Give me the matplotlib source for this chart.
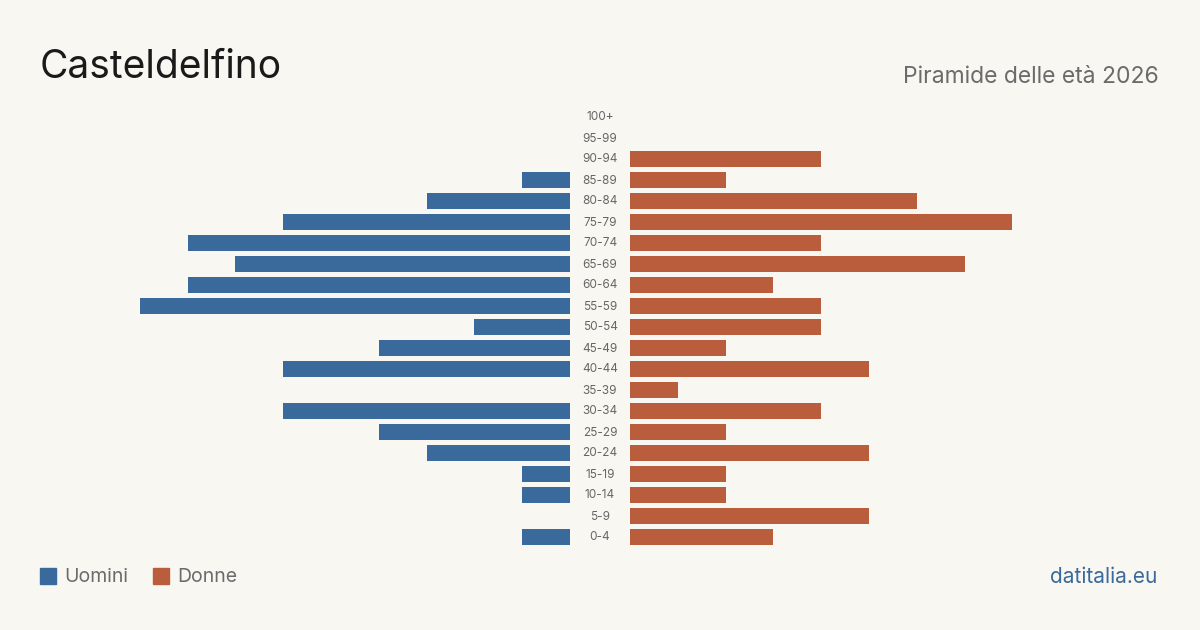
import matplotlib
matplotlib.use("Agg")
import matplotlib.pyplot as plt
from matplotlib.patches import Rectangle

plt.rcParams['font.family'] = ['Inter', 'DejaVu Sans']

age_groups = ["100+", "95-99", "90-94", "85-89", "80-84", "75-79", "70-74", "65-69",
              "60-64", "55-59", "50-54", "45-49", "40-44", "35-39", "30-34", "25-29",
              "20-24", "15-19", "10-14", "5-9", "0-4"]
men = [0, 0, 0, 1, 3, 6, 8, 7, 8, 9, 2, 4, 6, 0, 6, 4, 3, 1, 1, 0, 1]
women = [0, 0, 4, 2, 6, 8, 4, 7, 3, 4, 4, 2, 5, 1, 4, 2, 5, 2, 2, 5, 3]

title = "Casteldelfino"
subtitle = "Piramide delle età 2026"
legend_labels = ["Uomini", "Donne"]
source = "datitalia.eu"

BG = "#f9f7f2"
BLUE = "#3a6a9b"
ORANGE = "#b95d3c"

W, H = 1200, 630
fig = plt.figure(figsize=(12, 6.3), dpi=100, facecolor=BG)

n = len(age_groups)
row = 21.0
top_px = 117 - row / 2
bot_px = 537 + row / 2
ax_bottom = 1 - bot_px / H
ax_height = (bot_px - top_px) / H

unit = 47.8
left_w_px = 570 - 40
right_w_px = 1160 - 630

axL = fig.add_axes([40 / W, ax_bottom, left_w_px / W, ax_height])
axR = fig.add_axes([630 / W, ax_bottom, right_w_px / W, ax_height])

ypos = list(range(n))
for ax, vals, col, wpx in [(axL, men, BLUE, left_w_px), (axR, women, ORANGE, right_w_px)]:
    ax.set_facecolor(BG)
    ax.barh(ypos, vals, height=0.8, color=col)
    ax.set_xlim(0, wpx / unit)
    ax.set_ylim(n - 0.5, -0.5)
    ax.axis('off')
axL.invert_xaxis()

for i, lab in enumerate(age_groups):
    y = 1 - (117.5 + i * row) / H
    fig.text(600 / W, y, lab, ha='center', va='center', fontsize=8.5, color='#666666')

fig.text(40 / W, 1 - 68 / H, title, ha='left', va='center', fontsize=28, color='#1a1a1a')
fig.text(1159 / W, 1 - 77 / H, subtitle, ha='right', va='center', fontsize=16.5, color='#6b6b6b')

# legend
for x0, col, lab in [(40, BLUE, legend_labels[0]), (153, ORANGE, legend_labels[1])]:
    fig.patches.append(Rectangle((x0 / W, 1 - 584 / H), 16 / W, 16 / H,
                                 transform=fig.transFigure, color=col))
    fig.text((x0 + 24) / W, 1 - 577 / H, lab, ha='left', va='center', fontsize=14, color='#6b6b6b')

fig.text(1157 / W, 1 - 577 / H, source, ha='right', va='center', fontsize=15, color=BLUE)

fig.savefig("out.png", dpi=100, facecolor=BG)
